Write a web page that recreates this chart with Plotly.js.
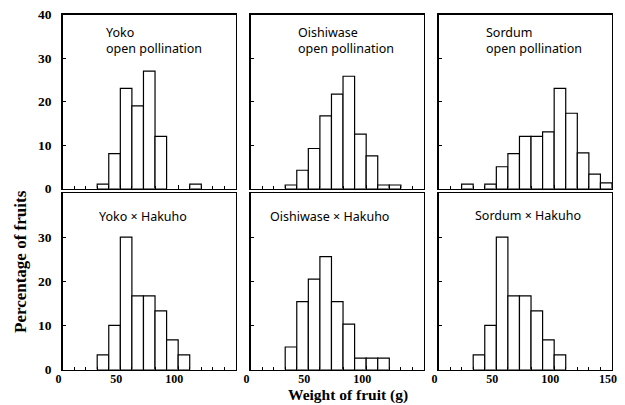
<!DOCTYPE html>
<html>
<head>
<meta charset="utf-8">
<script src="https://cdn.plot.ly/plotly-3.0.1.min.js"></script>
<style>html,body{margin:0;padding:0;background:#fff;}#chart{width:625px;height:405px;}</style>
</head>
<body>
<div id="chart"></div>
<script>
// Bin lower edges (g) and percentage of fruits per bin
const yokoOpenBins = [30, 40, 50, 60, 70, 80, 110];
const yokoOpenPct  = [1, 8, 23, 19, 27, 12, 1];
const oishiOpenBins = [30, 40, 50, 60, 70, 80, 90, 100, 110, 120];
const oishiOpenPct  = [0.8, 4.2, 9.2, 16.7, 21.7, 25.8, 12.5, 7.5, 0.8, 0.8];
const sordumOpenBins = [20, 40, 50, 60, 70, 80, 90, 100, 110, 120, 130, 140];
const sordumOpenPct  = [1, 1, 5, 8, 12, 12, 13, 23, 17.3, 8.2, 3.3, 1.3];
const yokoHakBins = [30, 40, 50, 60, 70, 80, 90, 100];
const yokoHakPct  = [3.3, 10, 30, 16.7, 16.7, 13.3, 6.7, 3.3];
const oishiHakBins = [30, 40, 50, 60, 70, 80, 90, 100, 110];
const oishiHakPct  = [5.1, 15.4, 20.5, 25.6, 15.4, 10.3, 2.6, 2.6, 2.6];
const sordumHakBins = [30, 40, 50, 60, 70, 80, 90, 100];
const sordumHakPct  = [3.3, 10, 30, 16.7, 16.7, 13.3, 6.7, 3.3];

const panelLabels = [
  "Yoko<br>open pollination",
  "Oishiwase<br>open pollination",
  "Sordum<br>open pollination",
  "Yoko × Hakuho",
  "Oishiwase × Hakuho",
  "Sordum × Hakuho"
];
const xTickVals = [0, 50, 100, 150];
const yTickValsTop = [0, 10, 20, 30, 40];
const yTickValsBottom = [0, 10, 20, 30];
const xTitle = "Weight of fruit (g)";
const yTitle = "Percentage of fruits";

const W = 625, H = 405;
const px = x => x / W;
const py = y => (H - y) / H;

const series = [
  [yokoOpenBins, yokoOpenPct],
  [oishiOpenBins, oishiOpenPct],
  [sordumOpenBins, sordumOpenPct],
  [yokoHakBins, yokoHakPct],
  [oishiHakBins, oishiHakPct],
  [sordumHakBins, sordumHakPct]
];

const colDom = [[62.5, 236], [250.5, 424], [438.5, 612]];
const rowDom = [[14.5, 188.5], [193, 369.5]];

const traces = series.map((s, i) => ({
  type: 'bar',
  x: s[0],
  y: s[1],
  width: 10,
  offset: 0,
  xaxis: 'x' + (i === 0 ? '' : i + 1),
  yaxis: 'y' + (i === 0 ? '' : i + 1),
  marker: {color: '#ffffff', line: {color: '#000000', width: 1.2}},
  hoverinfo: 'skip',
  showlegend: false
}));

const tickFont = {family: 'Liberation Serif', size: 12, color: '#000', weight: 'bold'};
const layout = {
  width: W, height: H,
  margin: {l: 0, r: 0, t: 0, b: 0},
  paper_bgcolor: '#fff', plot_bgcolor: '#fff',
  showlegend: false,
  bargap: 0,
  annotations: []
};

for (let i = 0; i < 6; i++) {
  const r = Math.floor(i / 3), c = i % 3;
  const sx = i === 0 ? '' : String(i + 1);
  layout['xaxis' + sx] = {
    domain: [px(colDom[c][0]), px(colDom[c][1])],
    anchor: 'y' + sx,
    range: [0, 150],
    tickvals: c === 2 ? xTickVals : xTickVals.slice(0, 3),
    ticks: 'inside', ticklen: 4, tickwidth: 1, tickcolor: '#000',
    minor: {dtick: 10, tick0: 0, ticks: 'inside', ticklen: 3, tickcolor: '#000', tickwidth: 1, showgrid: false},
    showticklabels: r === 1,
    ticklabelshift: -4,
    ticklabelstandoff: -2,
    tickfont: tickFont,
    showline: true, mirror: true, linecolor: '#000', linewidth: 1.3,
    showgrid: false, zeroline: false, fixedrange: true
  };
  layout['yaxis' + sx] = {
    domain: [py(rowDom[r][1]), py(rowDom[r][0])],
    anchor: 'x' + sx,
    range: [0, 40],
    tickvals: r === 0 ? yTickValsTop : yTickValsBottom,
    ticks: 'inside', ticklen: 3, tickwidth: 1, tickcolor: '#000',
    showticklabels: c === 0,
    ticklabelstandoff: 7,
    tickfont: {family: 'Liberation Serif', size: 13.5, color: '#000', weight: 'bold'},
    showline: true, mirror: true, linecolor: '#000', linewidth: 1.3,
    showgrid: false, zeroline: false, fixedrange: true
  };
}

const labelPos = [[104, 40], [296, 40], [484, 40], [97, 216], [268, 216.5], [473, 215]];
panelLabels.forEach((t, i) => {
  layout.annotations.push({
    text: t, xref: 'paper', yref: 'paper',
    x: px(labelPos[i][0]), y: py(labelPos[i][1]),
    xanchor: 'left', yanchor: 'middle', align: 'left', showarrow: false,
    font: {family: 'Noto Sans', size: 12.5, color: '#000'}
  });
});

layout.annotations.push({
  text: xTitle, xref: 'paper', yref: 'paper',
  x: px(348), y: py(405), xanchor: 'center', yanchor: 'bottom', showarrow: false,
  borderpad: 0,
  font: {family: 'Liberation Serif', size: 15.5, color: '#000', weight: 'bold'}
});
layout.annotations.push({
  text: yTitle, xref: 'paper', yref: 'paper', textangle: -90,
  x: px(20), y: py(262), xanchor: 'center', yanchor: 'middle', showarrow: false,
  font: {family: 'Liberation Serif', size: 17, color: '#000', weight: 'bold'}
});

Plotly.newPlot('chart', traces, layout, {staticPlot: true, displayModeBar: false});
</script>
</body>
</html>
